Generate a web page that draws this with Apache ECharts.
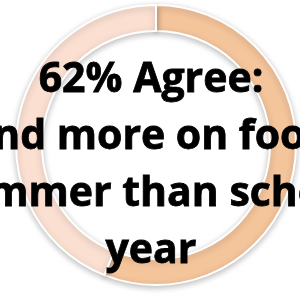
<!DOCTYPE html>
<html>
<head>
<meta charset="utf-8">
<script src="https://cdn.jsdelivr.net/npm/echarts@6/dist/echarts.min.js"></script>
<style>
  html, body { margin: 0; padding: 0; background: #fff; }
  #donut { width: 300px; height: 298px; }
</style>
</head>
<body>
<div id="donut"></div>
<script>
var sliceNames = ['Agree', 'Other'];
var sliceValues = [56, 44];
var sliceColors = ['#F4C49B', '#FBE0D2'];
var centerLines = ['62% Agree:', 'Spend more on food in', 'summer than school', 'year'];

var myChart = echarts.init(document.getElementById('donut'));

var option = {
    animation: false,
    series: [
        {
            type: 'pie',
            radius: [114, 140],
            center: [156, 145],
            startAngle: 90,
            clockwise: true,
            silent: true,
            z: 1,
            label: { show: false },
            labelLine: { show: false },
            itemStyle: {
                borderColor: '#ffffff',
                borderWidth: 2,
                shadowBlur: 6,
                shadowColor: 'rgba(0,0,0,0.25)',
                shadowOffsetY: 2
            },
            data: sliceNames.map(function (n, i) {
                return { name: n, value: sliceValues[i], itemStyle: { color: sliceColors[i] } };
            })
        }
    ],
    graphic: [
        {
            type: 'text',
            x: 151,
            y: 166,
            z: 100,
            zlevel: 1,
            style: {
                text: centerLines.join('\n'),
                font: 'bold 41px "Open Sans"',
                fill: '#000000',
                stroke: '#000000',
                lineWidth: 0.8,
                align: 'center',
                verticalAlign: 'middle',
                lineHeight: 57
            }
        }
    ]
};

myChart.setOption(option);
</script>
</body>
</html>
